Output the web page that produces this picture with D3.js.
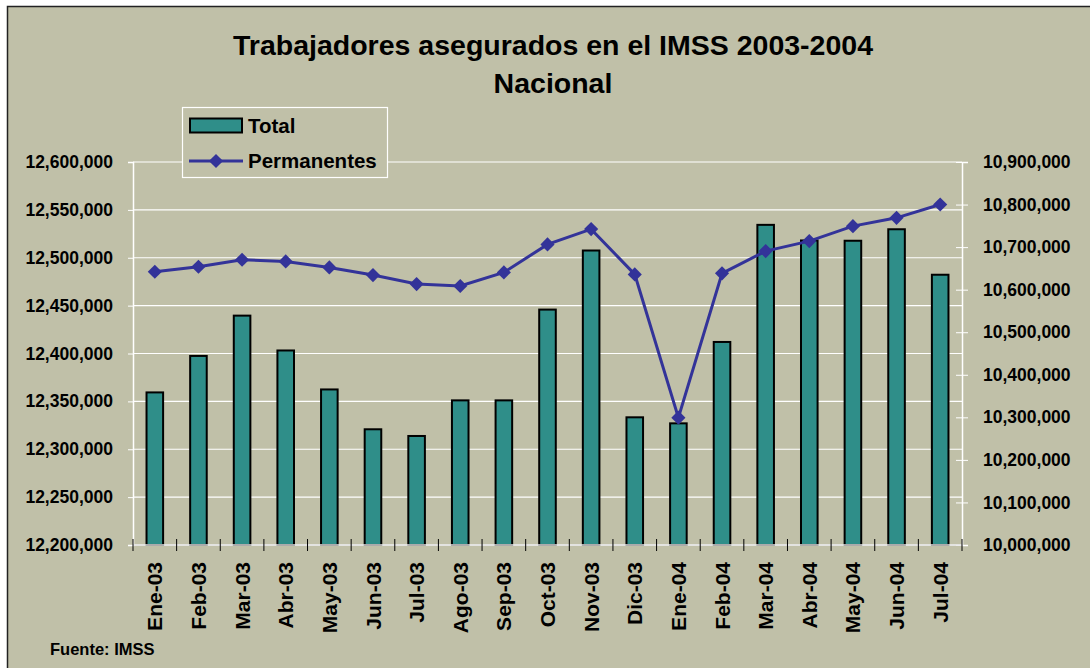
<!DOCTYPE html>
<html>
<head>
<meta charset="utf-8">
<script src="https://cdn.jsdelivr.net/npm/d3@7"></script>
<style>
body{margin:0;background:#fff;}
text{font-family:"Liberation Sans",Arial,sans-serif;font-weight:bold;fill:#000;}
</style>
</head>
<body>
<div id="grafica"></div>
<script>
var width=1090, height=668;

// meses del eje x
var meses=["Ene-03","Feb-03","Mar-03","Abr-03","May-03","Jun-03","Jul-03","Ago-03","Sep-03","Oct-03","Nov-03","Dic-03",
           "Ene-04","Feb-04","Mar-04","Abr-04","May-04","Jun-04","Jul-04"];
// trabajadores totales (eje izquierdo)
var total=[12360400,12398500,12440600,12404200,12363500,12321900,12314900,12352100,12352100,12446900,12508600,12334400,
           12328100,12413100,12535400,12519100,12518800,12530800,12483300];
// trabajadores permanentes (eje derecho)
var permanentes=[10642000,10653800,10670200,10666400,10652300,10634300,10613100,10608500,10640600,10706300,10742300,10635900,
                 10299300,10638300,10690600,10714100,10749300,10768800,10800200];
var ticksIzq=[12200000,12250000,12300000,12350000,12400000,12450000,12500000,12550000,12600000];
var ticksDer=[10000000,10100000,10200000,10300000,10400000,10500000,10600000,10700000,10800000,10900000];

var fondo="#C0C0A8", colorBarra="#2F8E89", colorLinea="#333399";
var x0=133, x1=962, yTop=162, yBot=545;

var svg=d3.select("#grafica").append("svg").attr("width",width).attr("height",height);

// area del grafico
svg.append("rect").attr("x",7.5).attr("y",6.5).attr("width",1100).attr("height",700)
   .attr("fill",fondo).attr("stroke","#222").attr("stroke-width",1.5);

var x=d3.scaleBand().domain(meses).range([x0,x1]).paddingInner(0.62).paddingOuter(0.31);
var yIzq=d3.scaleLinear().domain([12200000,12600000]).range([yBot,yTop]);
var yDer=d3.scaleLinear().domain([10000000,10900000]).range([yBot,yTop]);
var fmt=d3.format(",");

// lineas de division
svg.append("g").selectAll("line").data(ticksIzq).join("line")
   .attr("x1",x0).attr("x2",x1).attr("y1",d=>yIzq(d)).attr("y2",d=>yIzq(d))
   .attr("stroke","#fff").attr("stroke-width",1.2);

// eje izquierdo
var ejeIzq=svg.append("g").attr("transform","translate("+x0+",0)")
   .call(d3.axisLeft(yIzq).tickValues(ticksIzq).tickFormat(fmt).tickSize(5).tickPadding(15));
ejeIzq.select(".domain").attr("stroke","#fff").attr("stroke-width",1.5);
ejeIzq.selectAll(".tick line").attr("stroke","#fff");
ejeIzq.selectAll("text").attr("font-size","17.5px").attr("font-family","Liberation Sans, Arial").attr("font-weight","bold").attr("fill","#000");

// eje derecho
var ejeDer=svg.append("g").attr("transform","translate("+x1+",0)")
   .call(d3.axisRight(yDer).tickValues(ticksDer).tickFormat(fmt).tickSize(6).tickPadding(15));
ejeDer.select(".domain").attr("stroke","#fff").attr("stroke-width",1.5);
ejeDer.selectAll(".tick line").attr("stroke","#fff").attr("x1",-6);
ejeDer.selectAll("text").attr("font-size","17.5px").attr("font-family","Liberation Sans, Arial").attr("font-weight","bold").attr("fill","#000");

// barras
svg.append("g").selectAll("rect").data(total).join("rect")
   .attr("x",(d,i)=>x(meses[i])).attr("width",x.bandwidth())
   .attr("y",d=>yIzq(d)+1).attr("height",d=>yBot-yIzq(d)-1)
   .attr("fill",colorBarra).attr("stroke","#000").attr("stroke-width",2);

// eje x
svg.append("line").attr("x1",x0).attr("x2",x1).attr("y1",yBot).attr("y2",yBot)
   .attr("stroke","#E4E4E4").attr("stroke-width",1.5);
var limites=meses.map(d=>x(d)-x.step()*x.paddingInner()/2);
limites.push(x1);
svg.append("g").selectAll("line").data(limites).join("line")
   .attr("x1",d=>d).attr("x2",d=>d).attr("y1",yBot-6).attr("y2",yBot+6)
   .attr("stroke","#000").attr("stroke-width",1);
svg.append("g").selectAll("text").data(meses).join("text")
   .attr("transform",d=>"translate("+(x(d)+x.bandwidth()/2)+",562) rotate(-90)")
   .attr("text-anchor","end").attr("dy","0.36em").attr("font-size","21px")
   .text(d=>d);

// linea permanentes
var linea=d3.line().x((d,i)=>x(meses[i])+x.bandwidth()/2).y(d=>yDer(d));
svg.append("path").datum(permanentes).attr("d",linea)
   .attr("fill","none").attr("stroke",colorLinea).attr("stroke-width",3);
var rombo=d3.symbol().type(d3.symbolSquare).size(100);
svg.append("g").selectAll("path").data(permanentes).join("path")
   .attr("d",rombo)
   .attr("transform",(d,i)=>"translate("+(x(meses[i])+x.bandwidth()/2)+","+yDer(d)+") rotate(45)")
   .attr("fill",colorLinea);

// titulo
svg.append("text").attr("x",553).attr("y",55).attr("text-anchor","middle").attr("font-size","28.5px")
   .text("Trabajadores asegurados en el IMSS 2003-2004");
svg.append("text").attr("x",553).attr("y",93).attr("text-anchor","middle").attr("font-size","28.5px")
   .text("Nacional");

// leyenda
var ley=svg.append("g");
ley.append("rect").attr("x",182.5).attr("y",107.5).attr("width",205).attr("height",70)
   .attr("fill",fondo).attr("stroke","#fff").attr("stroke-width",1.2);
ley.append("rect").attr("x",190).attr("y",118.5).attr("width",52).attr("height",14)
   .attr("fill",colorBarra).attr("stroke","#000").attr("stroke-width",2);
ley.append("text").attr("x",248).attr("y",133).attr("font-size","20.5px").text("Total");
ley.append("line").attr("x1",189).attr("x2",243).attr("y1",161).attr("y2",161)
   .attr("stroke",colorLinea).attr("stroke-width",3);
ley.append("path").attr("d",rombo).attr("transform","translate(216,161) rotate(45)").attr("fill",colorLinea);
ley.append("text").attr("x",248).attr("y",168).attr("font-size","20.5px").text("Permanentes");

// fuente
svg.append("text").attr("x",50).attr("y",655).attr("font-size","16.5px").text("Fuente: IMSS");
</script>
</body>
</html>
